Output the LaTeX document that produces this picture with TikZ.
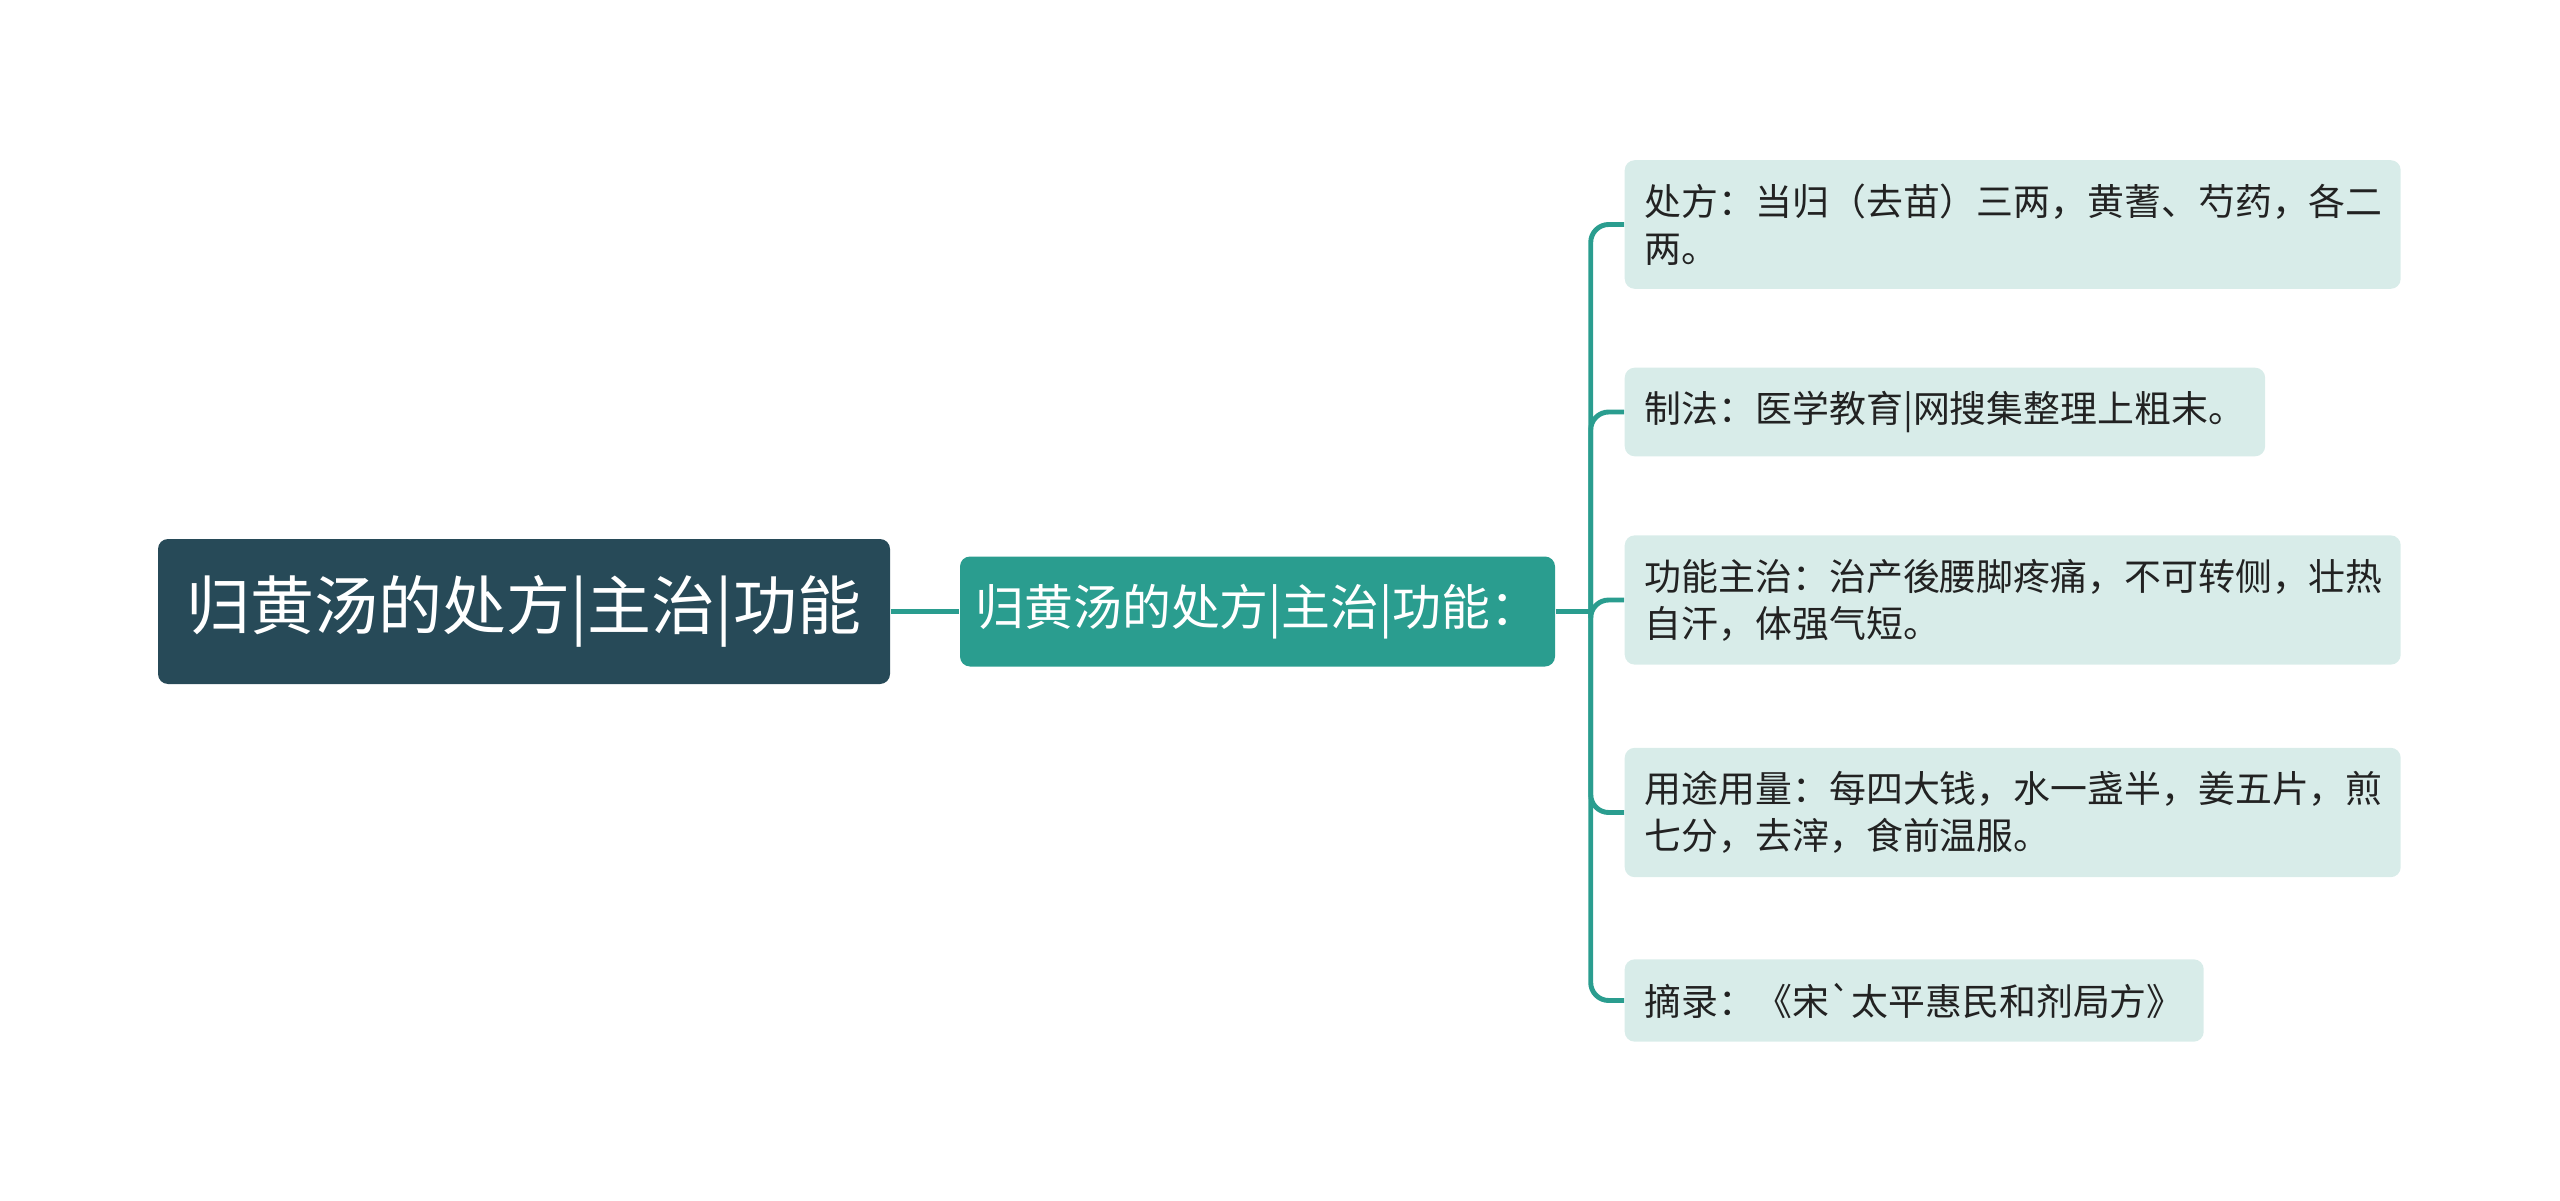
\documentclass[tikz,border=0pt]{standalone}
\usepackage{fontspec}
\newfontfamily\cjk{Noto Sans CJK SC}
\definecolor{rootfill}{HTML}{274A58}
\definecolor{midteal}{HTML}{2A9D8F}
\definecolor{leaffill}{HTML}{D8ECE9}
\definecolor{leaftext}{HTML}{222222}

\begin{document}
\begin{tikzpicture}[
  rootbox/.style={rectangle, rounded corners=0.1cm, fill=rootfill, text=white,
    minimum width=7.32cm, minimum height=1.45cm, inner sep=0pt,
    font=\cjk\fontsize{18.2pt}{22pt}\selectfont},
  midbox/.style={rectangle, rounded corners=0.1cm, fill=midteal, text=white,
    minimum width=5.95cm, minimum height=1.10cm, inner sep=0pt,
    font=\cjk\fontsize{13.9pt}{17pt}\selectfont},
  leafbox/.style={rectangle, rounded corners=0.1cm, fill=leaffill, text=leaftext,
    anchor=west, align=left, inner xsep=0.2cm, inner ysep=0.235cm,
    font=\cjk\fontsize{10.5pt}{13.4pt}\selectfont},
  widebox/.style={leafbox, text width=7.36cm},
  link/.style={draw=midteal, line width=1.4pt}
]

  \useasboundingbox (0,0) rectangle (25.6,12);

% main topic and subtopic
  \node[rootbox] (root) at (5.24,5.885) {归黄汤的处方|主治|功能};
  \node[midbox]  (mid)  at (12.575,5.885) {归黄汤的处方|主治|功能：};

% leaves
  \node[widebox] (presc)  at (16.24,9.755) {处方：当归（去苗）三两，黄蓍、芍药，各二\\两。};
  \node[leafbox] (method) at (16.24,7.88)  {制法：医学教育|网搜集整理上粗末。};
  \node[widebox] (effect) at (16.24,6.00)  {功能主治：治产後腰脚疼痛，不可转侧，壮热\\自汗，体强气短。};
  \node[widebox] (dose)   at (16.24,3.875) {用途用量：每四大钱，水一盏半，姜五片，煎\\七分，去滓，食前温服。};
  \node[leafbox] (source) at (16.24,1.995) {摘录：《宋`太平惠民和剂局方》};

% connectors
  \path (mid.east) ++(0.35,0) coordinate (fork);
  \draw[link] (root) -- (mid);
  \draw[link] (mid) -- (fork);
  \foreach \leaf in {presc,method,effect,dose,source}
    \draw[link, rounded corners=0.18cm] (fork) |- (\leaf.west);

\end{tikzpicture}
\end{document}
